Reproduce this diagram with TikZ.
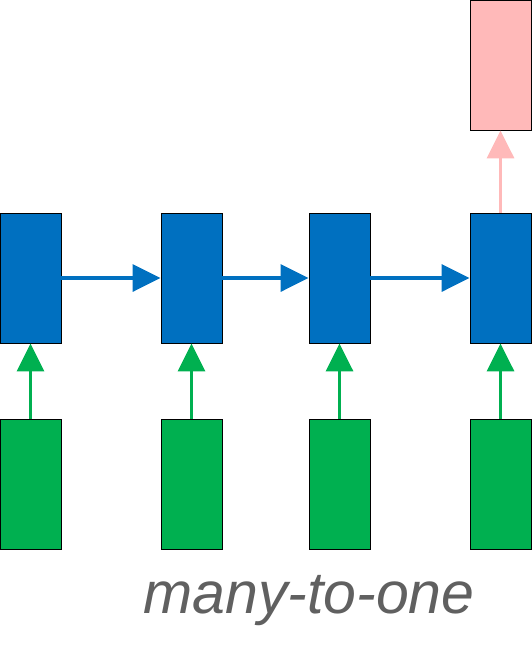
\documentclass[tikz,border=0pt]{standalone}
\usepackage{fontspec}
\setmainfont{Liberation Sans}
\usetikzlibrary{arrows.meta}
\definecolor{hidblue}{HTML}{0070C0}
\definecolor{inpgreen}{HTML}{00B050}
\definecolor{outpink}{HTML}{FFB9B9}
\definecolor{textgray}{HTML}{606060}
\begin{document}
\begin{tikzpicture}[x=1pt, y=-1pt,
    box/.style={draw=black, line width=0.9pt, minimum width=61pt, minimum height=130pt, inner sep=0pt},
    arr/.style={line width=3.5pt, -{Triangle[length=28pt, width=27pt]}}]
                        \useasboundingbox (0,0) rectangle (532,666);

                        \foreach \k/\i in {1/30.5, 2/191.5, 3/339.5, 4/500.5} {
                            \node (h\k) at (\i, 278) [box, fill=hidblue] {};
                            \node (x\k) at (\i, 484) [box, fill=inpgreen] {};
                            \draw [arr, color=inpgreen] (x\k) -- (h\k);
                        }

                        \node (y4) at (500.5, 65) [box, fill=outpink] {};

                        \draw [arr, color=hidblue] (h1) -- (h2);
                        \draw [arr, color=hidblue] (h2) -- (h3);
                        \draw [arr, color=hidblue] (h3) -- (h4);
                        \draw [arr, color=outpink] (h4) -- (y4);

                        \node (label) at (309, 613) [anchor=base, text=textgray, font=\fontsize{59}{70}\selectfont\itshape] {many-to-one};
                    \end{tikzpicture}
\end{document}
